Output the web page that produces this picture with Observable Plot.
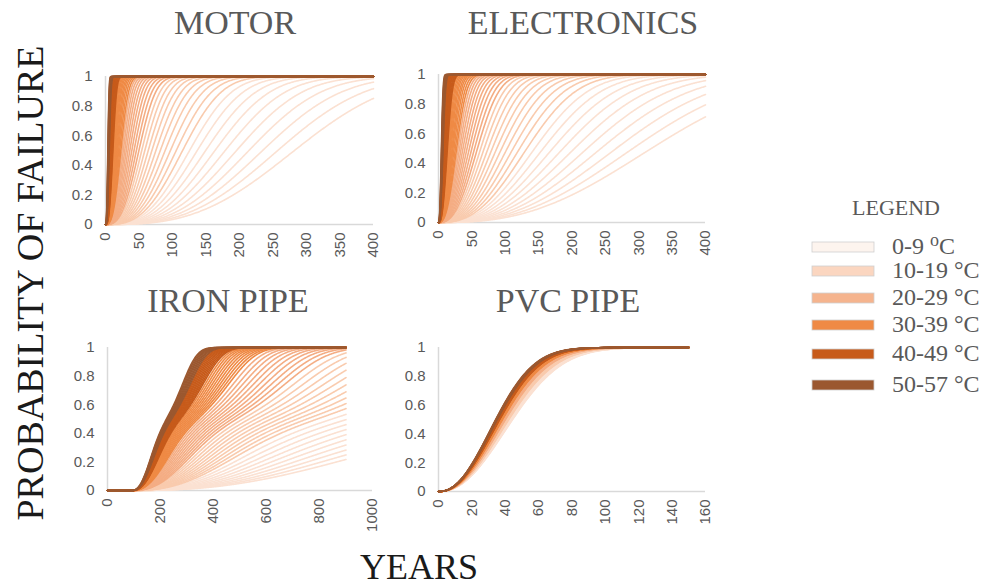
<!DOCTYPE html>
<html><head><meta charset="utf-8">
<script src="https://cdn.jsdelivr.net/npm/d3@7"></script>
<script src="https://cdn.jsdelivr.net/npm/@observablehq/plot@0.6"></script>
<style>
body{margin:0;background:#fff;}
#root{position:relative;width:984px;height:587px;overflow:hidden;background:#fff;}
#root > svg, #root > figure{position:absolute;margin:0;}
</style></head><body><div id="root"></div>
<script>
// ---------- data ----------
const temperatures = [0,1,2,3,4,5,6,7,8,9,10,11,12,13,14,15,16,17,18,19,20,21,22,23,24,25,26,27,28,29,30,31,32,33,34,35,36,37,38,39,40,41,42,43,44,45,46,47,48,49,50,51,52,53,54,55,56,57];
const binLabels = ["0-9","10-19","20-29","30-39","40-49","50-57"];
const binColors = ["#fdf4ee","#fbd6c0","#f5b48e","#ef8a45","#c75b1b","#9b5830"];
const binLineColors = ["#fbe1d2","#f9cbae","#f4ad84","#ef8a45","#c75b1b","#9b5830"];
const yTicks = [0,0.2,0.4,0.6,0.8,1];
const motorTicks = [0,50,100,150,200,250,300,350,400];
const ironTicks = [0,200,400,600,800,1000];
const pvcTicks = [0,20,40,60,80,100,120,140,160];

// characteristic life (years) per temperature, Weibull shape per panel
const motorLife = [320,291.7,266.1,242.9,221.9,202.8,185.4,169.7,155.4,142.4,130.6,119.8,110.0,101.0,92.8,85.4,78.6,72.4,66.6,61.4,56.6,52.3,48.3,44.6,41.2,38.1,35.2,32.6,30.2,28.0,26.0,24.1,22.3,20.7,19.3,17.9,16.7,15.5,14.4,13.4,12.5,11.7,10.9,10.1,9.5,8.8,8.3,7.7,7.2,6.7,6.3,5.9,5.5,5.2,4.9,4.5,4.3,4.0];
const motorShape = 2.9;
const electronicsLife = [367.0,335.2,306.3,280.1,256.3,234.6,214.9,197.0,180.7,165.9,152.4,140.0,128.8,118.5,109.0,100.5,92.7,85.5,78.8,72.8,67.2,62.2,57.5,53.2,49.2,45.6,42.2,39.1,36.3,33.7,31.3,29.1,26.9,25.0,23.4,21.7,20.3,18.9,17.6,16.3,15.3,14.3,13.4,12.4,11.7,10.8,10.2,9.5,8.9,8.3,7.8,7.3,6.8,6.5,6.1,5.6,5.4,5.0];
const electronicsShape = 2.6;
// iron pipe: time-scale factor per temperature for a two-mode failure curve
const ironScale = [11.40,10.56,9.781,9.060,8.392,7.773,7.200,6.669,6.177,5.722,5.300,5.005,4.728,4.467,4.220,3.987,3.766,3.558,3.361,3.176,3.000,2.866,2.738,2.616,2.499,2.388,2.281,2.179,2.082,1.989,1.900,1.843,1.788,1.734,1.682,1.631,1.582,1.534,1.488,1.443,1.400,1.373,1.346,1.320,1.294,1.269,1.244,1.220,1.196,1.173,1.150,1.127,1.105,1.083,1.062,1.041,1.020,1.000];
const ironDelay = 90, ironEta1 = 85, ironBeta1 = 2.5, ironEta2 = 205, ironBeta2 = 4.5, ironWeight = 0.45;
const pvcLife = [52.5,52.2,51.9,51.7,51.4,51.1,50.8,50.6,50.3,50.0,49.8,49.5,49.3,49.0,48.8,48.6,48.3,48.1,47.8,47.6,47.4,47.2,46.9,46.7,46.5,46.3,46.1,45.9,45.7,45.5,45.3,45.1,44.9,44.7,44.5,44.3,44.1,43.9,43.7,43.5,43.3,43.2,43.0,42.8,42.6,42.5,42.3,42.1,41.9,41.8,41.6,41.5,41.3,41.1,41.0,40.8,40.7,40.5];
const pvcShape = 2.2;

// ---------- model curves ----------
const W = (x, eta, beta) => x <= 0 ? 0 : 1 - Math.exp(-Math.pow(x / eta, beta));
function curves(params, fn, years) {
  const rows = [];
  temperatures.forEach((T, i) => {
    const bin = Math.min(5, Math.floor(T / 10));
    for (const t of years) rows.push({T, bin, t, p: fn(t, params[i])});
  });
  return rows;
}
const shortYears = [...d3.range(0, 20, 0.25), ...d3.range(20, 401, 1)];
const motorRows = curves(motorLife, (t, e) => W(t, e, motorShape), shortYears);
const elecRows = curves(electronicsLife, (t, e) => W(t, e, electronicsShape), shortYears);
const ironRows = curves(ironScale, (t, s) => {
  const x = (t - ironDelay) / s;
  return ironWeight * W(x, ironEta1, ironBeta1) + (1 - ironWeight) * W(x, ironEta2, ironBeta2);
}, d3.range(0, 901, 2));
const pvcRows = curves(pvcLife, (t, e) => W(t, e, pvcShape), d3.range(0, 151, 1));

// ---------- panels ----------
const root = document.getElementById("root");
function panel(rows, frame, xDomain, xTicks) {
  const ml = 70, mt = 20, mr = 25, mb = 50;
  const w = frame.x1 - frame.x0, h = frame.y1 - frame.y0;
  const chart = Plot.plot({
    width: w + ml + mr, height: h + mt + mb,
    marginLeft: ml, marginTop: mt, marginRight: mr, marginBottom: mb,
    style: {fontFamily: "'Liberation Sans', Arial, sans-serif", fontSize: "15px", color: "#595959", background: "transparent", overflow: "visible"},
    x: {domain: xDomain},
    y: {domain: [0, 1]},
    marks: [
      Plot.ruleY([0], {stroke: "#d9d9d9", strokeWidth: 1.5}),
      Plot.ruleX([0], {y1: 0, y2: 1, stroke: "#d9d9d9", strokeWidth: 1.5}),
      Plot.line(rows, {x: "t", y: "p", z: "T", stroke: d => binLineColors[d.bin], strokeWidth: 1.6}),
      Plot.axisY({ticks: yTicks, tickSize: 0, tickPadding: 13, label: null, fontSize: 15, tickFormat: d => String(d)}),
      Plot.axisX({ticks: xTicks, tickSize: 0, tickPadding: 8, tickRotate: -90, label: null, fontSize: 15, tickFormat: d => String(d)})
    ]
  });
  chart.style.left = (frame.x0 - ml) + "px";
  chart.style.top = (frame.y0 - mt) + "px";
  root.appendChild(chart);
}
panel(motorRows, {x0: 105, x1: 373, y0: 76, y1: 224}, [0, 400], motorTicks);
panel(elecRows, {x0: 438, x1: 705, y0: 74, y1: 222}, [0, 400], motorTicks);
panel(ironRows, {x0: 107, x1: 372, y0: 347, y1: 490}, [0, 1000], ironTicks);
panel(pvcRows, {x0: 438, x1: 705, y0: 347, y1: 491}, [0, 160], pvcTicks);

// ---------- text overlay ----------
const svg = d3.select(root).append("svg")
  .attr("width", 984).attr("height", 587)
  .style("left", "0px").style("top", "0px").style("pointer-events", "none")
  .style("font-family", "'Liberation Serif', 'Times New Roman', serif");
const titles = [["MOTOR", 235, 34], ["ELECTRONICS", 583, 34], ["IRON PIPE", 228, 312], ["PVC PIPE", 568, 312]];
titles.forEach(([txt, x, y]) => svg.append("text").attr("x", x).attr("y", y).attr("text-anchor", "middle")
  .attr("font-size", 34).attr("fill", "#595959").text(txt));
svg.append("text").attr("transform", "translate(43,283) rotate(-90)").attr("text-anchor", "middle")
  .attr("font-size", 38).attr("fill", "#1a1a1a").text("PROBABILITY OF FAILURE");
svg.append("text").attr("x", 419).attr("y", 579).attr("text-anchor", "middle")
  .attr("font-size", 36).attr("fill", "#1a1a1a").text("YEARS");
svg.append("text").attr("x", 896).attr("y", 215).attr("text-anchor", "middle")
  .attr("font-size", 22).attr("fill", "#595959").text("LEGEND");
const rowY = [247, 271, 298, 325, 354, 385];
binLabels.forEach((lab, i) => {
  svg.append("rect").attr("x", 812).attr("y", rowY[i] - 5).attr("width", 62).attr("height", 10)
    .attr("fill", binColors[i]).attr("stroke", "#cfcfcf").attr("stroke-width", 0.8);
  const t = svg.append("text").attr("x", 892).attr("y", rowY[i] + 7).attr("font-size", 24).attr("fill", "#595959");
  if (i === 0) {
    t.append("tspan").text(lab + " ");
    t.append("tspan").attr("dy", -8).attr("font-size", 18).text("o");
    t.append("tspan").attr("dy", 8).text("C");
  } else {
    t.text(lab + " \u00B0C");
  }
});
</script></body></html>
